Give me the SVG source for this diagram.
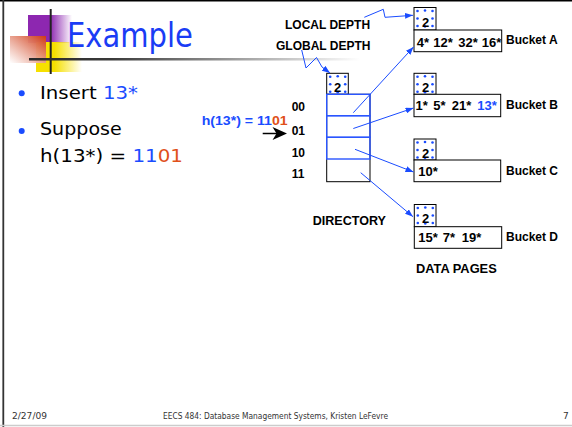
<svg xmlns="http://www.w3.org/2000/svg" width="572" height="427" viewBox="0 0 572 427">
<defs>
<style>
.slide{font-family:"DejaVu Sans","Liberation Sans",sans-serif}
.lbl{font-family:"Liberation Sans",Arial,sans-serif;font-weight:bold;font-size:12px;fill:#000}
.cell{font-family:"Liberation Sans",Arial,sans-serif;font-weight:bold;font-size:13px;fill:#000}
.box{fill:#fff;stroke:#000;stroke-width:1}
.blue{fill:#1a4cff}
.orange{fill:#e0501a}
.conn{fill:none;stroke:#1a4cff;stroke-width:1}
.dot{fill:#1a4cff}
</style>
<linearGradient id="gPurple" x1="0" y1="0" x2="1" y2="0">
<stop offset="0" stop-color="#8d27b0"/><stop offset="0.5" stop-color="#8d27b0"/><stop offset="1" stop-color="#8d27b0" stop-opacity="0"/>
</linearGradient>
<linearGradient id="gYellow" x1="0" y1="0" x2="1" y2="0">
<stop offset="0" stop-color="#f6e000"/><stop offset="0.4" stop-color="#f6e000"/><stop offset="1" stop-color="#f6e000" stop-opacity="0"/>
</linearGradient>
<linearGradient id="gRed" x1="1" y1="0" x2="0" y2="1">
<stop offset="0" stop-color="#d03a14"/><stop offset="1" stop-color="#ffffff" stop-opacity="0.9"/>
</linearGradient>
<linearGradient id="gLine" x1="29" y1="0" x2="360" y2="0" gradientUnits="userSpaceOnUse">
<stop offset="0" stop-color="#2a2a2a"/><stop offset="0.25" stop-color="#3a3a3a"/><stop offset="1" stop-color="#ffffff"/>
</linearGradient>
<g id="dots">
<circle class="dot" cx="3.5" cy="3.5" r="1.3"/>
<circle class="dot" cx="11" cy="3" r="1.3"/>
<circle class="dot" cx="18.5" cy="3.5" r="1.3"/>
<circle class="dot" cx="3.5" cy="11" r="1.3"/>
<circle class="dot" cx="18.5" cy="11" r="1.3"/>
<circle class="dot" cx="3.5" cy="18.5" r="1.3"/>
<circle class="dot" cx="11" cy="19" r="1.3"/>
<circle class="dot" cx="18.5" cy="18.5" r="1.3"/>
</g>
<marker id="ah" viewBox="0 0 8 6" refX="8" refY="3" markerWidth="8" markerHeight="6" markerUnits="userSpaceOnUse" orient="auto">
<path d="M0,0 L8,3 L0,6 Z" fill="#1a4cff"/>
</marker>
</defs>

<rect x="0" y="0" width="572" height="427" fill="#fff"/>
<g id="frame">
<line x1="0" y1="0.8" x2="572" y2="0.8" stroke="#000" stroke-width="1.6"/>
<line x1="3.3" y1="0" x2="3.3" y2="427" stroke="#333" stroke-width="1.8"/>
<line x1="0" y1="425.5" x2="572" y2="425.5" stroke="#ccc" stroke-width="1.5"/>
</g>

<g id="logo">
<rect x="28" y="15" width="44" height="28" fill="url(#gPurple)"/>
<rect x="36" y="42" width="46" height="30" fill="url(#gYellow)"/>
<rect x="10" y="36" width="36" height="27" fill="url(#gRed)"/>
<line x1="50.7" y1="9" x2="50.7" y2="74" stroke="#222" stroke-width="2"/>
<line x1="29" y1="59.3" x2="360" y2="59.3" stroke="url(#gLine)" stroke-width="2.6"/>
</g>

<g id="title" class="slide">
<text x="67" y="47" font-size="34" fill="#1a3cf5" textLength="126" lengthAdjust="spacingAndGlyphs">Example</text>
</g>

<g id="bullets" class="slide">
<circle cx="21.7" cy="93.3" r="3" fill="#1a4cff"/>
<circle cx="21.7" cy="131" r="3" fill="#1a4cff"/>
<text x="40" y="98.5" font-size="18" fill="#000" textLength="98" lengthAdjust="spacingAndGlyphs">Insert <tspan class="blue">13*</tspan></text>
<text x="40" y="135" font-size="18" fill="#000" textLength="81.7" lengthAdjust="spacingAndGlyphs">Suppose</text>
<text x="40" y="161.5" font-size="18" fill="#000" textLength="143" lengthAdjust="spacingAndGlyphs">h(13*) = <tspan class="blue">11</tspan><tspan class="orange">01</tspan></text>
</g>

<g id="labels">
<text class="lbl" x="285" y="29.3">LOCAL DEPTH</text>
<text class="lbl" x="276" y="50">GLOBAL DEPTH</text>
<text class="lbl" x="312.7" y="225" textLength="73.3" lengthAdjust="spacingAndGlyphs">DIRECTORY</text>
<text class="lbl" x="416" y="273.3" textLength="80.7" lengthAdjust="spacingAndGlyphs">DATA PAGES</text>
</g>

<g id="hash">
<text class="lbl" x="201.7" y="125" font-size="13.5" textLength="86" lengthAdjust="spacingAndGlyphs"><tspan class="blue">h(13*) = 11</tspan><tspan class="orange">01</tspan></text>
</g>

<g id="directory">
<rect class="box" x="326.7" y="73.3" width="21.6" height="21"/>
<use href="#dots" x="326.7" y="73.3"/>
<text class="cell" x="337.5" y="92" text-anchor="middle">2</text>
<rect class="box" x="326.7" y="94.3" width="43.3" height="87.4"/>
<g fill="none" stroke="#2a55ff" stroke-width="1.4">
<rect x="326.7" y="94.3" width="43.3" height="21.4"/>
<rect x="326.7" y="115.7" width="43.3" height="21.6"/>
<rect x="326.7" y="137.3" width="43.3" height="21.7"/>
</g>
<text class="lbl" x="291.7" y="110.7">00</text>
<text class="lbl" x="291.7" y="135">01</text>
<text class="lbl" x="291.7" y="156.5">10</text>
<text class="lbl" x="291.7" y="178.3">11</text>
</g>

<g id="bucketA">
<rect class="box" x="414" y="7.5" width="22" height="22.5"/>
<use href="#dots" x="414" y="7.5"/>
<text class="cell" x="425.5" y="26.5" text-anchor="middle">2</text>
<rect class="box" x="414" y="30" width="87.7" height="21.7"/>
<text class="cell"><tspan x="416.7" y="46.5">4*</tspan><tspan x="433.3" y="46.5">12*</tspan><tspan x="458.3" y="46.5">32*</tspan><tspan x="481.7" y="46.5">16*</tspan></text>
<text class="lbl" x="506" y="43.5">Bucket A</text>
</g>

<g id="bucketB">
<rect class="box" x="414" y="73.3" width="22" height="21"/>
<use href="#dots" x="414" y="73.3"/>
<text class="cell" x="425.5" y="91.5" text-anchor="middle">2</text>
<rect class="box" x="414" y="94.3" width="86.7" height="22.4"/>
<text class="cell"><tspan x="415.5" y="110">1*</tspan><tspan x="433.3" y="110">5*</tspan><tspan x="451.7" y="110">21*</tspan><tspan x="477.3" y="110" class="blue">13*</tspan></text>
<text class="lbl" x="506" y="109">Bucket B</text>
</g>

<g id="bucketC">
<rect class="box" x="414" y="139" width="22" height="21"/>
<use href="#dots" x="414" y="139"/>
<text class="cell" x="425.5" y="157.5" text-anchor="middle">2</text>
<rect class="box" x="414" y="160" width="86.7" height="21.7"/>
<text class="cell" x="418.3" y="175.5">10*</text>
<text class="lbl" x="506" y="175">Bucket C</text>
</g>

<g id="bucketD">
<rect class="box" x="414.3" y="204.5" width="21.7" height="22.2"/>
<use href="#dots" x="414.3" y="204.5"/>
<text class="cell" x="425.5" y="223" text-anchor="middle">2</text>
<rect class="box" x="414.3" y="226.7" width="87.4" height="21.6"/>
<text class="cell"><tspan x="418.3" y="242">15*</tspan><tspan x="442.7" y="242">7*</tspan><tspan x="461.7" y="242">19*</tspan></text>
<text class="lbl" x="506" y="240.5">Bucket D</text>
</g>

<g id="connectors">
<polyline class="conn" points="364.3,17.3 383.3,9.3 385,17.3 413,15.3" marker-end="url(#ah)"/>
<polyline class="conn" points="301.7,50 306,68 316.5,57.5 322,67 330,73" marker-end="url(#ah)"/>
<line class="conn" x1="353.3" y1="112.7" x2="413.5" y2="47" marker-end="url(#ah)"/>
<line class="conn" x1="353.3" y1="128.5" x2="413.5" y2="108" marker-end="url(#ah)"/>
<line class="conn" x1="355" y1="149.3" x2="413.5" y2="172" marker-end="url(#ah)"/>
<line class="conn" x1="360.7" y1="172.7" x2="413" y2="216.7" marker-end="url(#ah)"/>
<line x1="262.7" y1="133.5" x2="278" y2="133.5" stroke="#000" stroke-width="1.5"/>
<path d="M287,133.5 L272.5,127 L276.5,133.5 L272.5,140 Z" fill="#000"/>
</g>

<g id="footer" class="slide" font-size="9" fill="#333">
<text x="12" y="419" textLength="35" lengthAdjust="spacingAndGlyphs">2/27/09</text>
<text x="163" y="419" textLength="225" lengthAdjust="spacingAndGlyphs">EECS 484: Database Management Systems, Kristen LeFevre</text>
<text x="563" y="419">7</text>
</g>
</svg>
